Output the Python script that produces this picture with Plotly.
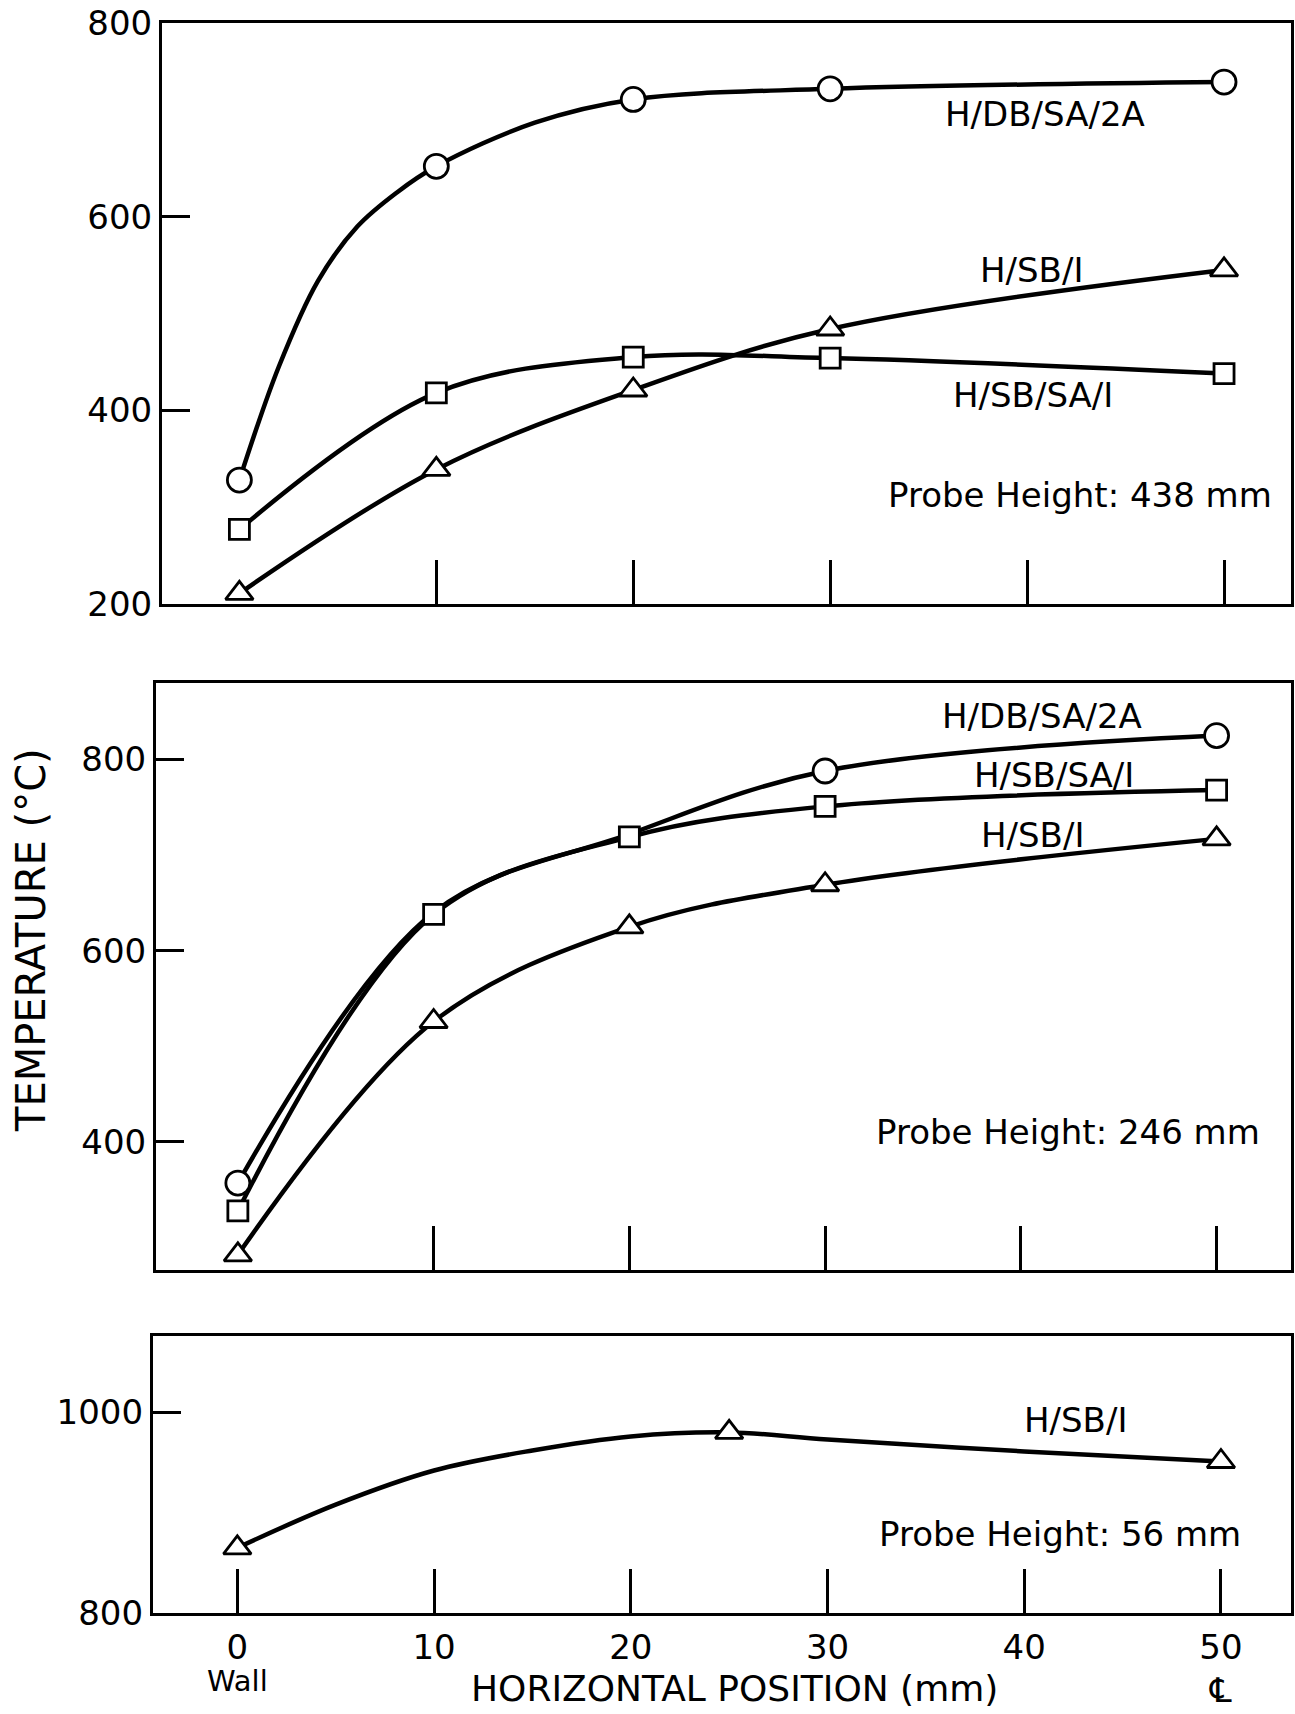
import plotly.graph_objects as go

# ---------------- data ----------------
x_pos = [0, 10, 20, 30, 50]

# Probe height 438 mm (top panel) - measured points
top_db_sa_2a = [328, 652, 721, 732, 739]
top_sb_sa_1 = [277, 418, 455, 454, 438]
top_sb_1 = [211, 339, 421, 484, 545]
# hand-drawn fitted curve for H/DB/SA/2A
top_db_curve_x = [0, 2, 4, 6, 8, 10, 15, 20, 30, 50]
top_db_curve_y = [328, 445, 534, 590, 625, 652, 697, 721, 732, 739]

# Probe height 246 mm (middle panel)
mid_db_sa_2a = [357, 640, 722, 788, 825]
mid_db_sa_2a_visible = [1, 0, 0, 1, 1]
mid_sb_sa_1 = [328, 638, 719, 751, 768]
mid_sb_1 = [282, 526, 625, 669, 717]

# Probe height 56 mm (bottom panel)
bot_x = [0, 25, 50]
bot_sb_1 = [865, 980, 951]
# hand-drawn fitted curve
bot_curve_x = [0, 5, 10, 15, 20, 25, 30, 40, 50]
bot_curve_y = [865, 908, 942, 962, 976, 980, 973, 961, 951]

x_ticks = [0, 10, 20, 30, 40, 50]
series_names = ["H/DB/SA/2A", "H/SB/SA/I", "H/SB/I"]

FONT = "DejaVu Sans"
LW = 4.5

fig = go.Figure()

def add_line(xs, ys, xa, ya):
    fig.add_trace(go.Scatter(
        x=xs, y=ys, mode="lines", xaxis=xa, yaxis=ya,
        line=dict(color="black", width=LW, shape="spline", smoothing=1.0),
        hoverinfo="skip", showlegend=False))

def marker(xs, ys, symbol, size, xa, ya, opac=None):
    return dict(x=xs, y=ys, symbol=symbol, size=size, xa=xa, ya=ya, opac=opac)

# lines
add_line(top_db_curve_x, top_db_curve_y, "x", "y")
add_line(x_pos, top_sb_sa_1, "x", "y")
add_line(x_pos, top_sb_1, "x", "y")
add_line(x_pos, mid_db_sa_2a, "x2", "y2")
add_line(x_pos, mid_sb_sa_1, "x2", "y2")
add_line(x_pos, mid_sb_1, "x2", "y2")
add_line(bot_curve_x, bot_curve_y, "x3", "y3")

markers = [
    marker(x_pos, top_db_sa_2a, "circle", 24, "x", "y"),
    marker(x_pos, top_sb_sa_1, "square", 20, "x", "y"),
    marker(x_pos, top_sb_1, "triangle-up", 24, "x", "y"),
    marker(x_pos, mid_db_sa_2a, "circle", 24, "x2", "y2", mid_db_sa_2a_visible),
    marker(x_pos, mid_sb_sa_1, "square", 20, "x2", "y2"),
    marker(x_pos, mid_sb_1, "triangle-up", 24, "x2", "y2"),
    marker(bot_x, bot_sb_1, "triangle-up", 24, "x3", "y3"),
]

for m in markers:
    mk = dict(symbol=m["symbol"], size=m["size"], color="white",
              line=dict(color="black", width=2.8))
    if m["opac"] is not None:
        mk["opacity"] = m["opac"]
    fig.add_trace(go.Scatter(x=m["x"], y=m["y"], mode="markers",
                             xaxis=m["xa"], yaxis=m["ya"], marker=mk,
                             hoverinfo="skip", showlegend=False))

axis_common = dict(showline=True, mirror=True, linecolor="black", linewidth=3,
                   showgrid=False, zeroline=False, ticks="inside",
                   tickcolor="black", tickwidth=3, automargin=False,
                   tickfont=dict(family=FONT, size=34, color="black"))

fig.update_layout(
    width=1295, height=1714,
    margin=dict(l=0, r=0, t=0, b=0, autoexpand=False),
    paper_bgcolor="white", plot_bgcolor="white",
    font=dict(family=FONT, color="black"),
    xaxis=dict(domain=[0.1251, 0.9969], range=[-3.93, 53.4], anchor="y",
               tickvals=x_ticks[1:], showticklabels=False, ticklen=44, **axis_common),
    yaxis=dict(domain=[0.6476, 0.9866], range=[200, 800], anchor="x",
               tickvals=[200, 400, 600, 800], ticklen=28, **axis_common),
    xaxis2=dict(domain=[0.1205, 0.9969], range=[-4.18, 53.8], anchor="y2",
                tickvals=x_ticks[1:], showticklabels=False, ticklen=44, **axis_common),
    yaxis2=dict(domain=[0.2590, 0.6015], range=[266, 880], anchor="x2",
                tickvals=[400, 600, 800], ticklen=28, **axis_common),
    xaxis3=dict(domain=[0.1181, 0.9969], range=[-4.29, 53.56], anchor="y3",
                tickvals=x_ticks, ticklen=44, ticklabelstandoff=2, **axis_common),
    yaxis3=dict(domain=[0.0589, 0.2205], range=[800, 1076], anchor="x3",
                tickvals=[800, 1000], ticklen=28, **axis_common),
)

def label(text, x, y, xr, yr, size=34):
    fig.add_annotation(text=text, x=x, y=y, xref=xr, yref=yr, showarrow=False,
                       xanchor="center", yanchor="middle",
                       font=dict(family=FONT, size=size, color="black"))

# top panel labels
label(series_names[0], 40.9, 706, "x", "y")
label(series_names[2], 40.2, 545, "x", "y")
label(series_names[1], 40.3, 416, "x", "y")
label("Probe Height: 438 mm", 42.7, 313, "x", "y")
# middle panel labels
label(series_names[0], 41.1, 845, "x2", "y2")
label(series_names[1], 41.7, 784, "x2", "y2")
label(series_names[2], 40.6, 721, "x2", "y2")
label("Probe Height: 246 mm", 42.4, 410, "x2", "y2")
# bottom panel labels
label(series_names[2], 42.6, 992, "x3", "y3")
label("Probe Height: 56 mm", 41.8, 879, "x3", "y3")

# axis titles and extra tick captions
fig.add_annotation(text="TEMPERATURE (°C)", x=31/1295, y=1-940/1714, xref="paper", yref="paper",
                   textangle=-90, showarrow=False, xanchor="center", yanchor="middle",
                   font=dict(family=FONT, size=40, color="black"))
fig.add_annotation(text="HORIZONTAL POSITION (mm)", x=734/1295, y=1-1688/1714,
                   xref="paper", yref="paper", showarrow=False,
                   xanchor="center", yanchor="middle",
                   font=dict(family=FONT, size=36, color="black"))
fig.add_annotation(text="Wall", x=0, y=1-1681/1714, xref="x3", yref="paper",
                   showarrow=False, xanchor="center", yanchor="middle",
                   font=dict(family=FONT, size=29, color="black"))
fig.add_annotation(text="\u2104", x=50, y=1-1690/1714, xref="x3", yref="paper",
                   showarrow=False, xanchor="center", yanchor="middle",
                   font=dict(family=FONT, size=34, color="black"))

fig.write_html("out.html")
